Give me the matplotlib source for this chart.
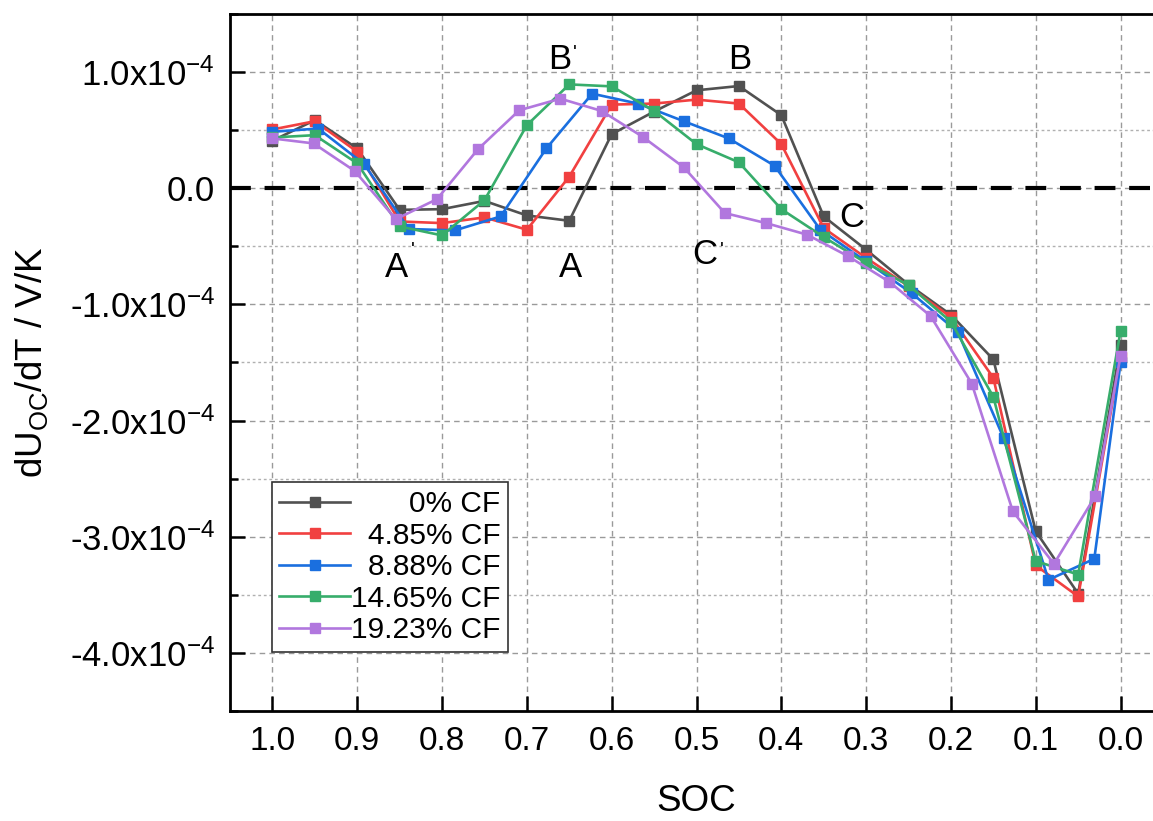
import numpy as np
import matplotlib
matplotlib.use("Agg")
import matplotlib.pyplot as plt
from matplotlib.ticker import MultipleLocator, FixedLocator

plt.rcParams['font.family'] = ['Liberation Sans', 'DejaVu Sans']
plt.rcParams['mathtext.fontset'] = 'custom'
plt.rcParams['mathtext.rm'] = 'Liberation Sans'
plt.rcParams['mathtext.it'] = 'Liberation Sans:italic'
plt.rcParams['mathtext.bf'] = 'Liberation Sans:bold'

# SOC grids (each series was sampled on its own grid)
soc_regular = [1.0, 0.95, 0.9, 0.85, 0.8, 0.75, 0.7, 0.65, 0.6, 0.55, 0.5,
               0.45, 0.4, 0.35, 0.3, 0.25, 0.2, 0.15, 0.1, 0.05, 0.0]
soc_888 = [1.0, 0.946, 0.892, 0.839, 0.785, 0.731, 0.677, 0.623, 0.569, 0.515,
           0.462, 0.408, 0.354, 0.300, 0.246, 0.192, 0.138, 0.085, 0.031, 0.0]
soc_1923 = [1.0, 0.9515, 0.903, 0.8545, 0.806, 0.7575, 0.709, 0.6605, 0.612,
            0.5635, 0.515, 0.4665, 0.418, 0.3695, 0.321, 0.2725, 0.224, 0.1755,
            0.127, 0.0785, 0.03, 0.0]

# dUoc/dT in units of 1e-4 V/K
cf_0 = [0.409, 0.586, 0.343, -0.186, -0.18, -0.109, -0.234, -0.28, 0.466, 0.66,
        0.843, 0.88, 0.629, -0.243, -0.529, -0.829, -1.09, -1.474, -2.954, -3.49,
        -1.353]
cf_485 = [0.506, 0.577, 0.314, -0.286, -0.3, -0.251, -0.357, 0.1, 0.72, 0.729,
          0.763, 0.729, 0.38, -0.343, -0.6, -0.843, -1.11, -1.632, -3.247, -3.514,
          -1.45]
cf_888 = [0.486, 0.514, 0.209, -0.351, -0.363, -0.243, 0.343, 0.814, 0.729, 0.577,
          0.429, 0.194, -0.357, -0.63, -0.905, -1.236, -2.149, -3.371, -3.19, -1.5]
cf_1465 = [0.437, 0.457, 0.214, -0.329, -0.406, -0.103, 0.543, 0.894, 0.877, 0.666,
           0.38, 0.223, -0.18, -0.42, -0.643, -0.834, -1.149, -1.796, -3.21, -3.325,
           -1.227]
cf_1923 = [0.429, 0.386, 0.149, -0.266, -0.094, 0.337, 0.671, 0.771, 0.666, 0.443,
           0.18, -0.214, -0.3, -0.4, -0.586, -0.806, -1.1, -1.681, -2.782, -3.233,
           -2.652, -1.44]

labels = ["0% CF", "4.85% CF", "8.88% CF", "14.65% CF", "19.23% CF"]
colors = ['#515151', '#F14040', '#1A6FDF', '#37AD6B', '#B177DE']

ytick_vals = [1e-4, 0.0, -1e-4, -2e-4, -3e-4, -4e-4]
ytick_labels = [r"1.0x10$\mathregular{^{-4}}$", "0.0",
                r"-1.0x10$\mathregular{^{-4}}$", r"-2.0x10$\mathregular{^{-4}}$",
                r"-3.0x10$\mathregular{^{-4}}$", r"-4.0x10$\mathregular{^{-4}}$"]
xtick_vals = [1.0, 0.9, 0.8, 0.7, 0.6, 0.5, 0.4, 0.3, 0.2, 0.1, 0.0]
xtick_labels = ["1.0", "0.9", "0.8", "0.7", "0.6", "0.5", "0.4", "0.3", "0.2",
                "0.1", "0.0"]

# point labels: (text, soc, value*1e4)
marks = [("B", 0.6616, 1.026), ("B", 0.449, 1.026), ("A", 0.854, -0.767),
         ("A", 0.6486, -0.767), ("C", 0.4906, -0.655), ("C", 0.317, -0.336)]
primes = [(0.643, 1.24), (0.835, -0.45), (0.4705, -0.45)]

fig = plt.figure(figsize=(11.53, 8.21), dpi=100)
ax = fig.add_axes([230/1153, 110/821, 933/1153, 697/821])

series = [(soc_regular, cf_0), (soc_regular, cf_485), (soc_888, cf_888),
          (soc_regular, cf_1465), (soc_1923, cf_1923)]
for (x, y), lab, c in zip(series, labels, colors):
    ax.plot(x, np.array(y) * 1e-4, '-s', color=c, lw=1.9, ms=7.5,
            mec=c, label=lab, zorder=3)

ax.axhline(0, color='black', lw=3, dashes=(5, 3.3), zorder=2)

ax.set_xlim(1.05, -0.05)
ax.set_ylim(-4.5e-4, 1.5e-4)
ax.yaxis.set_major_locator(FixedLocator(ytick_vals))
ax.set_yticklabels(ytick_labels)
ax.yaxis.set_minor_locator(MultipleLocator(0.5e-4))
ax.set_xticks(xtick_vals)
ax.set_xticklabels(xtick_labels)

ax.tick_params(which='major', direction='in', length=11, width=1.8,
               labelsize=24, pad=11)
ax.tick_params(axis='y', which='major', labelsize=25)
ax.tick_params(axis='y', which='minor', direction='in', length=6, width=1.8)
ax.tick_params(axis='x', which='minor', bottom=False)
for s in ax.spines.values():
    s.set_linewidth(2)

ax.grid(True, which='major', color='#9a9a9a', lw=1, dashes=(4, 3), zorder=0)
ax.grid(True, which='minor', axis='y', color='#b0b0b0', lw=1, dashes=(2, 2),
        zorder=0)

ax.set_xlabel("SOC", fontsize=26.5, labelpad=19)
ax.set_ylabel(r"dU$_{\mathregular{OC}}$/dT / V/K", fontsize=26.5, labelpad=14)

for t, xs, ys in marks:
    ax.text(xs, ys * 1e-4, t, fontsize=25, ha='center', va='baseline',
            zorder=6)
for xs, ys in primes:
    ax.text(xs, ys * 1e-4, "'", fontsize=15, ha='center', va='top', zorder=6)

leg = ax.legend(loc='lower left', bbox_to_anchor=(0.045, 0.085),
                borderaxespad=0, fontsize=21.5, handlelength=2.35,
                handletextpad=0.05, labelspacing=0.12, borderpad=0.25,
                fancybox=False, framealpha=1, edgecolor='#333333')
leg.get_frame().set_linewidth(1.2)

# right-align the legend labels
renderer = fig.canvas.get_renderer()
widths = [t.get_window_extent(renderer).width for t in leg.get_texts()]
maxw = max(widths)
for t, w in zip(leg.get_texts(), widths):
    t.set_position((maxw - w, 0))

fig.savefig("out.png", dpi=100)
